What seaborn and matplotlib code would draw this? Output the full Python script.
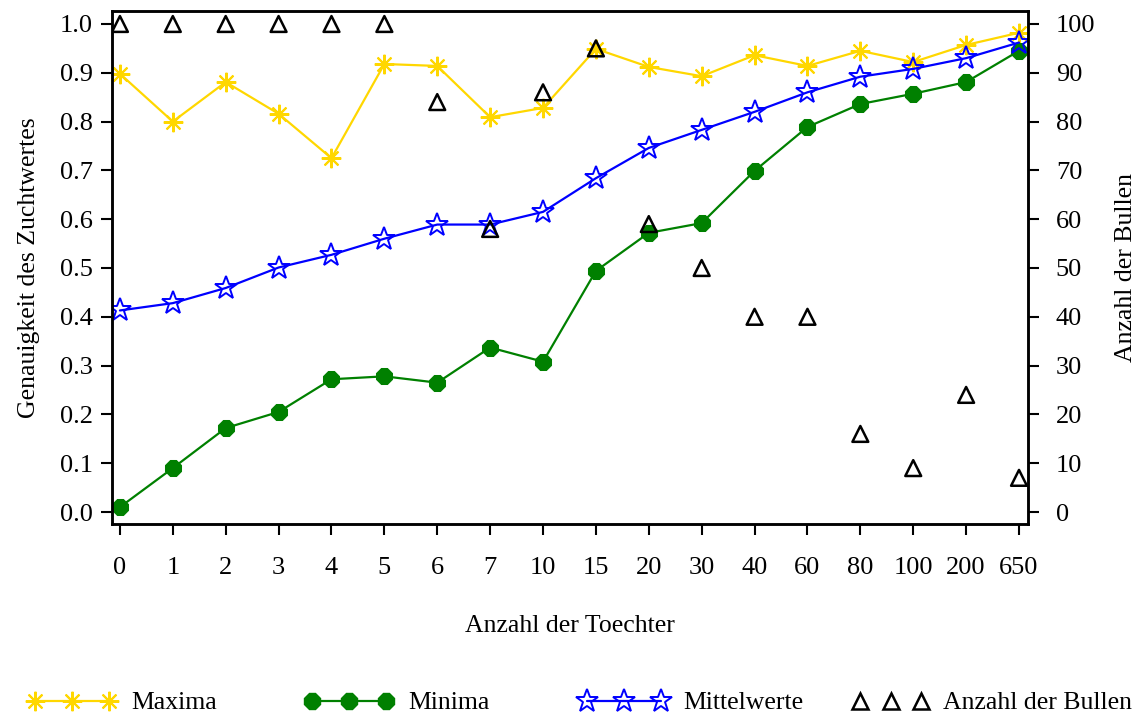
import numpy as np
import pandas as pd
import matplotlib
matplotlib.use("Agg")
import matplotlib.pyplot as plt
import seaborn as sns
from matplotlib.lines import Line2D

categories = ["0", "1", "2", "3", "4", "5", "6", "7", "10", "15", "20", "30",
              "40", "60", "80", "100", "200", "650"]
maxima = [0.898, 0.800, 0.881, 0.816, 0.725, 0.918, 0.914, 0.809, 0.828, 0.949,
          0.912, 0.893, 0.936, 0.914, 0.945, 0.922, 0.957, 0.982]
minima = [0.010, 0.090, 0.172, 0.205, 0.272, 0.278, 0.265, 0.337, 0.308, 0.494,
          0.572, 0.592, 0.699, 0.789, 0.836, 0.857, 0.881, 0.945]
mittelwerte = [0.413, 0.428, 0.459, 0.501, 0.527, 0.560, 0.589, 0.589, 0.615, 0.684,
               0.746, 0.783, 0.820, 0.860, 0.892, 0.908, 0.930, 0.962]
bullen = [100, 100, 100, 100, 100, 100, 84, 58, 86, 95, 59, 50, 40, 40, 16, 9, 24, 7]

sns.set_theme(style="ticks")
plt.rcParams["font.family"] = ["Liberation Serif", "DejaVu Serif"]
plt.rcParams["text.color"] = "black"
plt.rcParams["axes.labelcolor"] = "black"

df = pd.DataFrame({"pos": np.arange(len(categories)), "cat": categories,
                   "Maxima": maxima, "Minima": minima, "Mittelwerte": mittelwerte,
                   "Bullen": bullen})

fig = plt.figure(figsize=(11.44, 7.19), dpi=100)
ax = fig.add_axes([0.0979, 0.2712, 0.8007, 0.7135])

yellow = "#FFD700"
green = "#008000"
blue = "#0000FF"

sns.lineplot(data=df, x="pos", y="Maxima", ax=ax, color=yellow, lw=1.6,
             marker=(8, 2, 0), markersize=14, markeredgewidth=1.5,
             markeredgecolor=yellow)
sns.lineplot(data=df, x="pos", y="Minima", ax=ax, color=green, lw=1.6,
             marker="8", markersize=13, markeredgecolor=green, markerfacecolor=green)
sns.lineplot(data=df, x="pos", y="Mittelwerte", ax=ax, color=blue, lw=1.6,
             marker="*", markersize=17, markeredgewidth=1.4,
             markerfacecolor="none", markeredgecolor=blue)

ax2 = ax.twinx()
sns.scatterplot(data=df, x="pos", y="Bullen", ax=ax2, marker="^", s=130,
                facecolor="none", edgecolor="black", linewidth=1.8)

ax.set_xlim(-0.15, 17.17)
ax.set_ylim(-0.0246, 1.0266)
ax2.set_ylim(-2.46, 102.66)
ax.set_xticks(df["pos"])
ax.set_xticklabels(categories)
ax.set_yticks(np.arange(0, 1.01, 0.1))
ax.set_yticklabels([f"{v:.1f}" for v in np.arange(0, 1.01, 0.1)])
ax2.set_yticks(np.arange(0, 101, 10))

for a in (ax, ax2):
    for s in a.spines.values():
        s.set_linewidth(1.8)
        s.set_color("black")
    a.tick_params(axis="both", length=8, width=1.5, labelsize=19, colors="black",
                  pad=6)
ax.tick_params(axis="x", pad=16)
ax2.tick_params(axis="y", pad=12)

ax.set_xlabel("Anzahl der Toechter", fontsize=18.5, labelpad=26, color="black")
ax.set_ylabel("Genauigkeit des Zuchtwertes", fontsize=18.5, labelpad=14, color="black")
ax2.set_ylabel("Anzahl der Bullen", fontsize=18.5, labelpad=14, color="black")

handles = [
    Line2D([], [], color=yellow, lw=1.6, marker=(8, 2, 0), markersize=14,
           markeredgewidth=1.5, markeredgecolor=yellow),
    Line2D([], [], color=green, lw=1.6, marker="8", markersize=13,
           markerfacecolor=green, markeredgecolor=green),
    Line2D([], [], color=blue, lw=1.6, marker="*", markersize=17,
           markeredgewidth=1.4, markerfacecolor="none", markeredgecolor=blue),
    Line2D([], [], ls="none", marker="^", markersize=11, markeredgewidth=1.8,
           markerfacecolor="none", markeredgecolor="black"),
]
labels = ["Maxima", "Minima", "Mittelwerte", "Anzahl der Bullen"]
xstarts = [27, 304, 579, 852]
hlens = [3.5, 3.5, 3.5, 3.0]
for h, l, x0, hl in zip(handles, labels, xstarts, hlens):
    fig.legend([h], [l], loc="center left", bbox_to_anchor=(x0 / 1144, 1 - 703 / 719),
               numpoints=3, handlelength=hl, handletextpad=0.55,
               borderpad=0, borderaxespad=0, frameon=False, fontsize=18.5,
               labelcolor="black")

fig.savefig("out.png", dpi=100)
